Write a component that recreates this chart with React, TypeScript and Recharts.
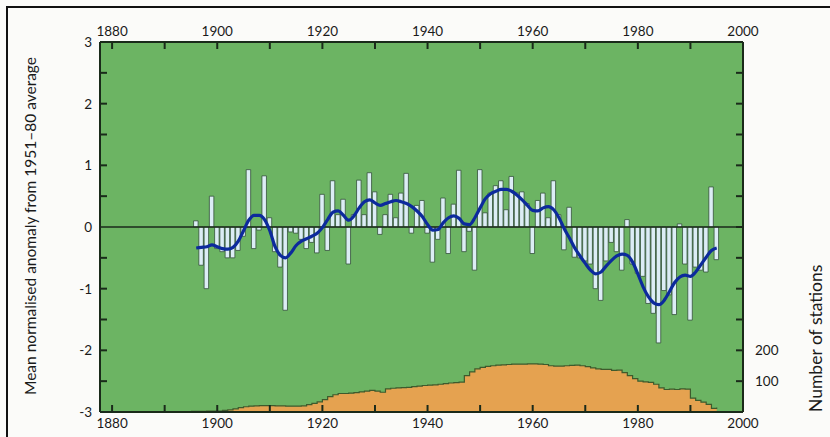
import React from 'react';
import {
  ComposedChart, Bar, Line, Area, XAxis, YAxis, CartesianGrid, ReferenceLine,
} from 'recharts';

// anomaly bars, one per year from 1896
const ANOMALY_START = 1896;
const anomaly = [
  0.1, -0.62, -1.0, 0.5, -0.35, -0.4, -0.5, -0.5, -0.38, -0.15,
  0.93, -0.35, -0.05, 0.83, 0.15, -0.4, -0.65, -1.35, -0.08, -0.1,
  -0.2, -0.35, -0.25, -0.42, 0.53, -0.38, 0.75, 0.2, 0.45, -0.6,
  0.2, 0.76, 0.2, 0.88, 0.57, -0.12, 0.2, 0.53, 0.15, 0.55,
  0.87, -0.1, 0.35, 0.43, -0.1, -0.57, -0.2, 0.47, -0.43, 0.37,
  0.92, -0.4, -0.07, -0.7, 0.93, 0.23, 0.55, 0.67, 0.75, 0.28,
  0.82, 0.55, 0.57, 0.38, -0.43, 0.43, 0.55, 0.15, 0.75, 0.2,
  -0.37, 0.32, -0.49, -0.5, -0.55, -0.6, -1.0, -1.19, -0.55, -0.25,
  -0.4, -0.7, 0.12, -0.6, -0.75, -0.8, -1.24, -1.4, -1.88, -1.03,
  -1.1, -1.42, 0.05, -0.6, -1.51, -0.65, -0.7, -0.73, 0.65, -0.53,
];

// smoothed curve, same years
const smooth = [
  -0.34, -0.33, -0.32, -0.29, -0.32, -0.35, -0.36, -0.33, -0.23, -0.06,
  0.11, 0.19, 0.19, 0.12, -0.06, -0.32, -0.46, -0.5, -0.42, -0.3,
  -0.23, -0.19, -0.15, -0.1, -0.01, 0.12, 0.24, 0.26, 0.19, 0.11,
  0.18, 0.31, 0.41, 0.44, 0.39, 0.35, 0.38, 0.41, 0.43, 0.41,
  0.38, 0.33, 0.26, 0.17, 0.04, -0.05, -0.04, 0.07, 0.15, 0.18,
  0.14, 0.05, 0.04, 0.15, 0.31, 0.46, 0.54, 0.58, 0.61, 0.61,
  0.58, 0.52, 0.44, 0.35, 0.27, 0.26, 0.31, 0.33, 0.28, 0.15,
  -0.03, -0.18, -0.34, -0.47, -0.59, -0.7, -0.76, -0.73, -0.63, -0.54,
  -0.47, -0.44, -0.46, -0.57, -0.76, -0.97, -1.13, -1.23, -1.26, -1.19,
  -1.05, -0.9, -0.81, -0.78, -0.8, -0.73, -0.61, -0.49, -0.38, -0.34,
];

// number of stations, one per year from 1895
const STATIONS_START = 1895;
const stations = [
  2, 2, 2, 3, 3, 3, 5, 7, 10, 14,
  17, 19, 20, 21, 21, 21, 20, 20, 19, 19,
  19, 20, 24, 28, 33, 40, 50, 56, 60, 60,
  61, 63, 65, 68, 70, 68, 64, 75, 77, 78,
  79, 80, 82, 84, 86, 87, 88, 90, 92, 94,
  95, 97, 118, 130, 140, 145, 148, 150, 152, 153,
  154, 155, 155, 155, 156, 156, 155, 154, 150, 149,
  149, 150, 151, 152, 150, 147, 143, 140, 138, 138,
  135, 136, 128, 118, 108, 100, 98, 96, 90, 78,
  73, 74, 73, 75, 74, 45, 38, 32, 25, 12,
  15,
];

const yearTicks = [1880, 1890, 1900, 1910, 1920, 1930, 1940, 1950, 1960, 1970, 1980, 1990, 2000];
const anomalyTicks = [-3, -2.5, -2, -1.5, -1, -0.5, 0, 0.5, 1, 1.5, 2, 2.5, 3];
const stationTicks = [0, 100, 200, 300, 400, 500, 600, 700, 800, 900, 1000, 1100, 1200];

const data = stations.map((s, i) => {
  const year = STATIONS_START + i;
  const k = year - ANOMALY_START;
  return {
    year,
    stations: s,
    anomaly: k >= 0 ? anomaly[k] : null,
    smooth: k >= 0 ? smooth[k] : null,
  };
});

const INK = '#1a2a1a';
const FONT = 'Lato, "Open Sans", sans-serif';
const labelStyle = { fontFamily: FONT, fontSize: 13.5, fill: '#1a1a1a' };

const LeftTick = (props: any) => {
  const { x, y, payload } = props;
  const v = payload.value;
  const ax = x + 8;
  const isLabel = Number.isInteger(v);
  return (
    <g>
      {Math.abs(v) < 3 && v !== 0 && (
        <line x1={ax} x2={ax + 7} y1={y} y2={y} stroke={INK} strokeWidth={2} />
      )}
      {isLabel && (
        <text x={x} y={y + 5} textAnchor="end" {...labelStyle}>{v}</text>
      )}
    </g>
  );
};

const RightTick = (props: any) => {
  const { x, y, payload } = props;
  const v = payload.value;
  const ax = x - 12;
  return (
    <g>
      {v > 0 && v < 1200 && (
        <line x1={ax} x2={ax - 7} y1={y} y2={y} stroke={INK} strokeWidth={2} />
      )}
      {(v === 100 || v === 200) && (
        <text x={x} y={y + 5} textAnchor="start" {...labelStyle}>{v}</text>
      )}
    </g>
  );
};

const TopTick = (props: any) => {
  const { x, y, payload } = props;
  const v = payload.value;
  const ay = y + 6;
  return (
    <g>
      {v < 2000 && <line x1={x} x2={x} y1={ay} y2={ay + 7} stroke={INK} strokeWidth={2} />}
      {v % 20 === 0 && (
        <text x={x} y={y} textAnchor="middle" {...labelStyle}>{v}</text>
      )}
    </g>
  );
};

const BottomTick = (props: any) => {
  const { x, y, payload } = props;
  const v = payload.value;
  return (
    <g>
      {v < 2000 && <line x1={x} x2={x} y1={y} y2={y - 7} stroke={INK} strokeWidth={2} />}
      {v % 20 === 0 && (
        <text x={x} y={y + 16} textAnchor="middle" {...labelStyle}>{v}</text>
      )}
    </g>
  );
};

export default function App() {
  return (
    <div style={{ position: 'absolute', left: 0, top: 0, width: 830, height: 437, background: '#fbfbf9', overflow: 'hidden' }}>
      <div style={{ position: 'absolute', left: 6, top: 6, width: 900, height: 500, borderTop: '2px solid #111', borderLeft: '2px solid #111' }} />
      <div style={{ position: 'absolute', left: 0, top: 0 }}>
        <ComposedChart width={830} height={437} data={data} margin={{ top: 12, right: 47, bottom: 0, left: 60 }}>
          <CartesianGrid horizontal={false} vertical={false} fill="#6cb463" />
          <Area xAxisId="bottom" yAxisId="right" type="stepAfter" dataKey="stations" fill="#e5a250"
            fillOpacity={1} stroke="#3e5a2c" strokeWidth={1.2} isAnimationActive={false} />
          <Bar xAxisId="bottom" yAxisId="left" dataKey="anomaly" barSize={4.5} fill="#dcedf5"
            stroke="#34503a" strokeWidth={0.8} isAnimationActive={false} />
          <ReferenceLine xAxisId="bottom" yAxisId="left" y={0} stroke={INK} strokeWidth={1.6} />
          <Line xAxisId="bottom" yAxisId="left" type="monotone" dataKey="smooth" stroke="#0c2a9c"
            strokeWidth={3.2} dot={false} isAnimationActive={false} connectNulls />
          <XAxis xAxisId="bottom" dataKey="year" type="number" domain={[1877.7, 2000]} ticks={yearTicks}
            allowDataOverflow orientation="bottom" height={25} tickSize={0} tickMargin={0}
            axisLine={{ stroke: INK, strokeWidth: 2 }} tickLine={false} tick={<BottomTick />} interval={0} />
          <XAxis xAxisId="top" dataKey="year" type="number" domain={[1877.7, 2000]} ticks={yearTicks}
            allowDataOverflow orientation="top" height={30} tickSize={0} tickMargin={6}
            axisLine={{ stroke: INK, strokeWidth: 2 }} tickLine={false} tick={<TopTick />} interval={0} />
          <YAxis yAxisId="left" type="number" domain={[-3, 3]} ticks={anomalyTicks} width={40}
            tickSize={0} tickMargin={8} axisLine={{ stroke: INK, strokeWidth: 2 }} tickLine={false}
            tick={<LeftTick />} interval={0} />
          <YAxis yAxisId="right" orientation="right" type="number" domain={[0, 1200]} ticks={stationTicks}
            width={40} tickSize={0} tickMargin={12} axisLine={{ stroke: INK, strokeWidth: 2 }} tickLine={false}
            tick={<RightTick />} interval={0} />
        </ComposedChart>
      </div>
      <svg width={830} height={437} style={{ position: 'absolute', left: 0, top: 0, pointerEvents: 'none' }}>
        <text x={36} y={226} transform="rotate(-90 36 226)" textAnchor="middle"
          style={{ fontFamily: FONT, fontSize: 15.5, fill: '#1a1a1a' }}>
          Mean normalised anomaly from 1951–80 average
        </text>
        <text x={822} y={412} transform="rotate(-90 822 412)" textAnchor="start"
          style={{ fontFamily: FONT, fontSize: 17.5, fill: '#1a1a1a' }}>
          Number of stations
        </text>
      </svg>
    </div>
  );
}
